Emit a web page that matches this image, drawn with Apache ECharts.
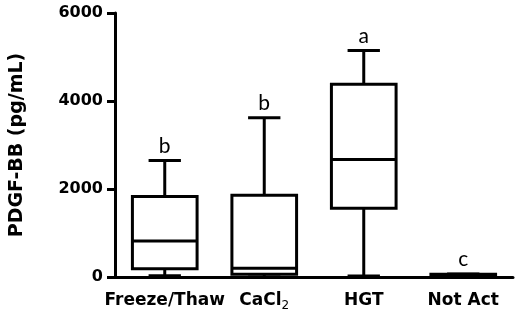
<!DOCTYPE html>
<html>
<head>
<meta charset="utf-8">
<script src="https://cdn.jsdelivr.net/npm/echarts@6/dist/echarts.min.js"></script>
<style>
html,body{margin:0;padding:0;background:#fff;}
#chart{width:517px;height:313px;}
</style>
</head>
<body>
<div id="chart"></div>
<script>
// Data
var categories = ['Freeze/Thaw', 'CaCl2', 'HGT', 'Not Act'];
var whiskerMin = [30, 0, 20, 0];
var q1 = [190, 60, 1560, 5];
var median = [820, 200, 2670, 30];
var q3 = [1830, 1860, 4380, 60];
var whiskerMax = [2650, 3620, 5150, 70];
var letters = ['b', 'b', 'a', 'c'];
var yTicks = [0, 2000, 4000, 6000];

var boxData = categories.map(function (c, i) {
  return [i, whiskerMin[i], q1[i], median[i], q3[i], whiskerMax[i]];
});

var chart = echarts.init(document.getElementById('chart'), null, {renderer: 'canvas'});
var LW = 3;
chart.setOption({
  animation: false,
  grid: {left: 113, right: 4, top: 13, bottom: 36, containLabel: false},
  xAxis: {
    type: 'category',
    data: categories,
    axisLine: {lineStyle: {color: '#000', width: 3}},
    axisTick: {alignWithLabel: true, length: 8, lineStyle: {color: '#000', width: 3}},
    axisLabel: {
      interval: 0,
      color: '#000', fontFamily: 'DejaVu Sans', fontWeight: 'bold', fontSize: 17, margin: 13,
      lineHeight: 22,
      formatter: function (v) { return v === 'CaCl2' ? 'CaCl{sub|2}' : v; },
      rich: {sub: {fontSize: 12, fontFamily: 'DejaVu Sans', fontWeight: 'normal', color: '#000', padding: [10, 0, 0, 0]}}
    }
  },
  yAxis: {
    type: 'value',
    min: yTicks[0], max: yTicks[yTicks.length - 1], interval: 2000,
    name: 'PDGF-BB (pg/mL)',
    nameLocation: 'middle', nameRotate: 90, nameGap: 88,
    nameTextStyle: {color: '#000', fontFamily: 'DejaVu Sans', fontWeight: 'bold', fontSize: 19},
    axisLine: {show: true, lineStyle: {color: '#000', width: 3}},
    axisTick: {show: true, length: 8, lineStyle: {color: '#000', width: 3}},
    splitLine: {show: false},
    axisLabel: {color: '#000', fontFamily: 'DejaVu Sans', fontWeight: 'bold', fontSize: 16, margin: 12,
      formatter: function (v) { return String(v); }}
  },
  series: [{
    type: 'custom',
    data: boxData,
    encode: {x: 0, y: [1, 2, 3, 4, 5]},
    renderItem: function (params, api) {
      var idx = api.value(0);
      var band = api.size([1, 0])[0];
      var boxW = band * 0.65, capW = boxW * 0.5;
      var pMin = api.coord([idx, api.value(1)]);
      var pQ1 = api.coord([idx, api.value(2)]);
      var pMed = api.coord([idx, api.value(3)]);
      var pQ3 = api.coord([idx, api.value(4)]);
      var pMax = api.coord([idx, api.value(5)]);
      var cx = pMed[0];
      var st = {stroke: '#000', lineWidth: LW, fill: null};
      function line(x1, y1, x2, y2) {
        return {type: 'line', shape: {x1: x1, y1: y1, x2: x2, y2: y2}, style: st};
      }
      return {
        type: 'group',
        children: [
          line(cx, pQ3[1], cx, pMax[1]),
          line(cx - capW / 2, pMax[1], cx + capW / 2, pMax[1]),
          line(cx, pQ1[1], cx, pMin[1]),
          line(cx - capW / 2, pMin[1], cx + capW / 2, pMin[1]),
          {type: 'rect', shape: {x: cx - boxW / 2, y: pQ3[1], width: boxW, height: pQ1[1] - pQ3[1]},
           style: {fill: '#fff', stroke: '#000', lineWidth: LW}},
          line(cx - boxW / 2, pMed[1], cx + boxW / 2, pMed[1]),
          {type: 'text', x: cx, y: pMax[1] - 4,
           style: {text: letters[idx], fill: '#000', align: 'center', verticalAlign: 'bottom',
                   font: 'normal 21px Lato'}}
        ]
      };
    }
  }]
});
</script>
</body>
</html>
